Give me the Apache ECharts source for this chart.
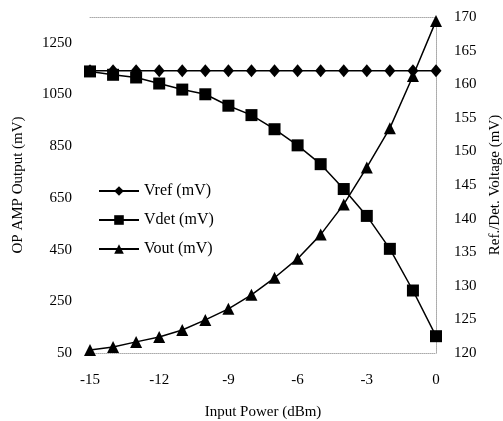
<!DOCTYPE html>
<html>
<head>
<meta charset="utf-8">
<script src="https://cdn.jsdelivr.net/npm/echarts@6/dist/echarts.min.js"></script>
<style>
html, body { margin: 0; padding: 0; background: #fff; }
#chart { width: 503px; height: 421px; }
</style>
</head>
<body>
<div id="chart"></div>
<script>
var inputPower = [-15, -14, -13, -12, -11, -10, -9, -8, -7, -6, -5, -4, -3, -2, -1, 0];
var vref = [162.0, 162.0, 162.0, 162.0, 162.0, 162.0, 162.0, 162.0, 162.0, 162.0, 162.0, 162.0, 162.0, 162.0, 162.0, 162.0];
var vdet = [161.9, 161.4, 161.0, 160.1, 159.2, 158.5, 156.8, 155.4, 153.3, 150.9, 148.1, 144.4, 140.4, 135.5, 129.3, 122.5];
var vout = [62, 73, 93, 112, 139, 178, 221, 275, 341, 415, 508, 625, 768, 920, 1122, 1335];
var leftTicks = [50, 250, 450, 650, 850, 1050, 1250];

function pairs(ys) {
	var out = [];
	for (var i = 0; i < inputPower.length; i++) out.push([inputPower[i], ys[i]]);
	return out;
}

var font = 'Liberation Serif';
var frame = { show: true, lineStyle: { color: '#aaa', type: 'dotted', width: 1 } };
var plain = function (v) { return String(v); };

var lineSeries = function (name, data, symbol, size, axis) {
	return {
		name: name,
		type: 'line',
		yAxisIndex: axis,
		data: pairs(data),
		symbol: symbol,
		symbolSize: size,
		showAllSymbol: true,
		lineStyle: { color: '#000', width: 1.5 },
		itemStyle: { color: '#000' },
		animation: false
	};
};

var option = {
	backgroundColor: '#fff',
	grid: { left: 90, right: 67, top: 17, bottom: 68, containLabel: false, outerBoundsMode: 'none' },
	legend: {
		orient: 'vertical',
		left: 93,
		top: 178,
		itemWidth: 40,
		itemHeight: 12,
		itemGap: 13,
		textStyle: { fontFamily: font, fontSize: 16, color: '#000' },
		data: ['Vref (mV)', 'Vdet (mV)', 'Vout (mV)']
	},
	xAxis: [{
		type: 'value',
		min: -15,
		max: 0,
		interval: 3,
		name: 'Input Power (dBm)',
		nameLocation: 'middle',
		nameGap: 52,
		nameTextStyle: { fontFamily: font, fontSize: 15, color: '#000' },
		axisLine: frame,
		axisTick: { show: false },
		splitLine: { show: false },
		axisLabel: { fontFamily: font, fontSize: 15, color: '#000', margin: 20, formatter: plain }
	}, {
		type: 'value',
		position: 'top',
		min: -15,
		max: 0,
		axisLine: frame,
		axisTick: { show: false },
		axisLabel: { show: false },
		splitLine: { show: false }
	}],
	yAxis: [{
		type: 'value',
		min: 50,
		max: 1350,
		name: 'OP AMP Output (mV)',
		nameLocation: 'middle',
		nameGap: 64,
		nameTextStyle: { fontFamily: font, fontSize: 15, color: '#000' },
		axisLine: frame,
		axisTick: { show: false, customValues: leftTicks },
		splitLine: { show: false },
		axisLabel: { fontFamily: font, fontSize: 15, color: '#000', margin: 18, customValues: leftTicks, formatter: plain }
	}, {
		type: 'value',
		min: 120,
		max: 170,
		interval: 5,
		position: 'right',
		name: 'Ref./Det. Voltage (mV)',
		nameLocation: 'middle',
		nameRotate: 90,
		nameGap: 49,
		nameTextStyle: { fontFamily: font, fontSize: 15, color: '#000' },
		axisLine: frame,
		axisTick: { show: false },
		splitLine: { show: false },
		axisLabel: { fontFamily: font, fontSize: 15, color: '#000', margin: 18, formatter: plain }
	}],
	series: [
		lineSeries('Vref (mV)', vref, 'diamond', [11, 13], 1),
		lineSeries('Vdet (mV)', vdet, 'rect', 12, 1),
		lineSeries('Vout (mV)', vout, 'triangle', 12, 0)
	]
};

var chart = echarts.init(document.getElementById('chart'));
chart.setOption(option);
</script>
</body>
</html>
